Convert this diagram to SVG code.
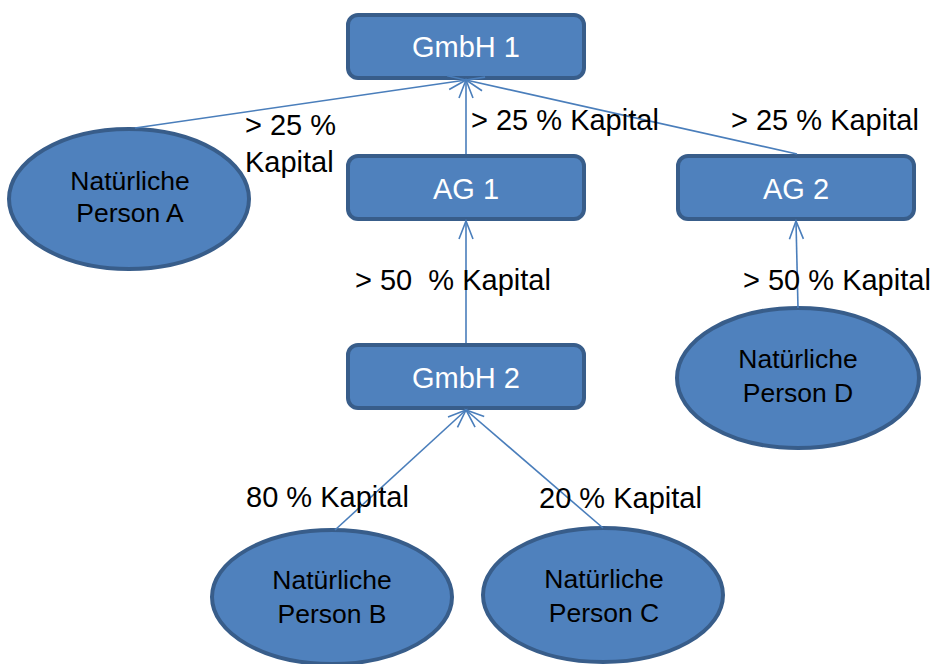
<svg xmlns="http://www.w3.org/2000/svg" width="936" height="664" viewBox="0 0 936 664">
<defs>
<style>
.box{fill:#4f81bd;stroke:#385d8a;stroke-width:4}
.ell{fill:#4f81bd;stroke:#385d8a;stroke-width:4}
.bt{font-family:"Liberation Sans",Arial,sans-serif;font-size:29px;fill:#ffffff;text-anchor:middle}
.et{font-family:"Liberation Sans",Arial,sans-serif;font-size:26.5px;fill:#000000;text-anchor:middle}
.lb{font-family:"Liberation Sans",Arial,sans-serif;font-size:29px;fill:#000000}
.cn{stroke:#4a7ebb;stroke-width:1.6;fill:none;marker-end:url(#arr)}
</style>
<marker id="arr" markerUnits="userSpaceOnUse" markerWidth="24" markerHeight="20" viewBox="-20 -10 24 20" refX="0" refY="0" orient="auto">
<path d="M -18 -7 L 0 0 L -18 7" fill="none" stroke="#4a7ebb" stroke-width="1.6"/>
</marker>
</defs>
<rect width="936" height="664" fill="#ffffff"/>
<g id="gmbh1"><rect class="box" x="348" y="15" width="236" height="63" rx="10"/><text class="bt" x="466" y="57">GmbH 1</text></g>
<g id="ag1"><rect class="box" x="348" y="156" width="236" height="63" rx="10"/><text class="bt" x="466" y="199">AG 1</text></g>
<g id="ag2"><rect class="box" x="678" y="156" width="236" height="63" rx="10"/><text class="bt" x="796" y="199">AG 2</text></g>
<g id="gmbh2"><rect class="box" x="348" y="345" width="236" height="63" rx="10"/><text class="bt" x="466" y="388">GmbH 2</text></g>
<g id="personA"><ellipse class="ell" cx="129" cy="199" rx="120" ry="70"/><text class="et" x="130" y="190">Natürliche</text><text class="et" x="130" y="222">Person A</text></g>
<g id="personB"><ellipse class="ell" cx="332" cy="597" rx="120" ry="67"/><text class="et" x="332" y="589">Natürliche</text><text class="et" x="332" y="623">Person B</text></g>
<g id="personC"><ellipse class="ell" cx="603" cy="595" rx="120" ry="67"/><text class="et" x="604" y="588">Natürliche</text><text class="et" x="604" y="622">Person C</text></g>
<g id="personD"><ellipse class="ell" cx="798" cy="378" rx="121" ry="70"/><text class="et" x="798" y="368">Natürliche</text><text class="et" x="798" y="402">Person D</text></g>
<g id="connectors">
<line class="cn" x1="135" y1="128" x2="466" y2="80"/>
<line class="cn" x1="466" y1="154" x2="466" y2="80"/>
<line class="cn" x1="797" y1="154" x2="466" y2="80"/>
<line class="cn" x1="466" y1="343" x2="466" y2="221"/>
<line class="cn" x1="798" y1="308" x2="796" y2="221"/>
<line class="cn" x1="335" y1="530" x2="466" y2="410"/>
<line class="cn" x1="603" y1="528" x2="466" y2="410"/>
</g>
<g id="labels">
<text class="lb" x="245" y="135">&gt; 25 %</text>
<text class="lb" x="245" y="172">Kapital</text>
<text class="lb" x="471" y="130">&gt; 25 % Kapital</text>
<text class="lb" x="731" y="130">&gt; 25 % Kapital</text>
<text class="lb" x="355" y="290" xml:space="preserve">&gt; 50  % Kapital</text>
<text class="lb" x="743" y="290">&gt; 50 % Kapital</text>
<text class="lb" x="246" y="507">80 % Kapital</text>
<text class="lb" x="539" y="508">20 % Kapital</text>
</g>
</svg>
